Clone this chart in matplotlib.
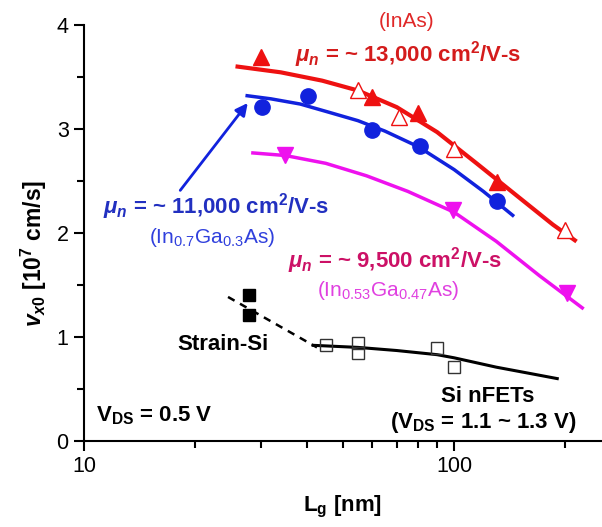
import numpy as np
import matplotlib
matplotlib.use("Agg")
import matplotlib.pyplot as plt
from matplotlib.ticker import FixedLocator, NullFormatter

plt.rcParams['font.family'] = ['Liberation Sans', 'DejaVu Sans']
plt.rcParams['mathtext.fontset'] = 'custom'
plt.rcParams['mathtext.rm'] = 'Liberation Sans:bold'
plt.rcParams['mathtext.bf'] = 'Liberation Sans:bold'
plt.rcParams['mathtext.it'] = 'Liberation Sans:italic:bold'
plt.rcParams['mathtext.sf'] = 'Liberation Sans'

# InAs (red): filled = measured, open = second set
inas_fill_x = [30, 60, 80, 131]
inas_fill_y = [3.69, 3.31, 3.15, 2.49]
inas_open_x = [55, 71, 100, 200]
inas_open_y = [3.375, 3.12, 2.81, 2.03]
inas_fit_x = [26, 34, 44, 55, 70, 90, 115, 150, 185, 212]
inas_fit_y = [3.60, 3.545, 3.465, 3.37, 3.21, 2.97, 2.67, 2.34, 2.08, 1.93]

# In0.7Ga0.3As (blue)
ingaas7_x = [30.3, 40.3, 60, 81, 131]
ingaas7_y = [3.21, 3.32, 2.99, 2.84, 2.31]
ingaas7_fit_x = [27.6, 32, 38.4, 46, 55, 65, 80, 100, 120, 144]
ingaas7_fit_y = [3.32, 3.29, 3.24, 3.16, 3.08, 2.98, 2.83, 2.61, 2.40, 2.17]

# In0.53Ga0.47As (magenta)
ingaas53_x = [34.9, 99.6, 202]
ingaas53_y = [2.75, 2.22, 1.42]
ingaas53_fit_x = [28.6, 35, 45, 58, 75, 100, 130, 170, 222]
ingaas53_fit_y = [2.77, 2.745, 2.67, 2.55, 2.40, 2.20, 1.92, 1.59, 1.28]

# Si
strain_x = [27.9, 27.9]
strain_y = [1.40, 1.21]
si_x = [45.1, 55, 55, 90, 100]
si_y = [0.92, 0.94, 0.85, 0.89, 0.71]
si_fit_x = [41.6, 55, 70, 90, 100, 130, 160, 190]
si_fit_y = [0.92, 0.90, 0.87, 0.83, 0.80, 0.71, 0.65, 0.60]
si_dash_x = [24.5, 42.6]
si_dash_y = [1.385, 0.90]

red = '#ee1111'
blue = '#1122dd'
mag = '#ee11ee'

fig = plt.figure(figsize=(6.02, 5.27), dpi=100)
ax = fig.add_axes([84 / 602, 86 / 527, 518 / 602, 416 / 527])

ax.plot(inas_fit_x, inas_fit_y, color=red, lw=3, zorder=2)
ax.plot(inas_fill_x, inas_fill_y, '^', color=red, ms=11, zorder=3)
ax.plot(inas_open_x, inas_open_y, '^', mfc='white', mec=red, mew=1, ms=11, zorder=3)

ax.plot(ingaas7_fit_x, ingaas7_fit_y, color=blue, lw=2.5, zorder=2)
ax.plot(ingaas7_x, ingaas7_y, 'o', color=blue, ms=11, zorder=3)

ax.plot(ingaas53_fit_x, ingaas53_fit_y, color=mag, lw=2.5, zorder=2)
ax.plot(ingaas53_x, ingaas53_y, 'v', color=mag, ms=11, zorder=3)

ax.plot(si_fit_x, si_fit_y, color='black', lw=2.2, zorder=2)
ax.plot(si_dash_x, si_dash_y, color='black', lw=1.8, ls=(0, (3, 2.5)), zorder=2)
ax.plot(strain_x, strain_y, 's', color='black', ms=9, zorder=3)
ax.plot(si_x, si_y, 's', mfc='none', mec='#333333', mew=1, ms=9, zorder=3)

ax.annotate('', xy=(27.7, 3.25), xytext=(18.2, 2.41),
            arrowprops=dict(arrowstyle='-|>', color=blue, lw=2,
                            mutation_scale=18, shrinkA=0, shrinkB=0))

ax.set_xscale('log')
ax.set_xlim(10, 251)
ax.set_ylim(0, 4)
ax.xaxis.set_major_locator(FixedLocator([10, 100]))
ax.xaxis.set_minor_locator(FixedLocator([20, 30, 40, 50, 60, 70, 80, 90, 200]))
ax.xaxis.set_minor_formatter(NullFormatter())
ax.set_xticklabels(['10', '100'])
ax.set_yticks([0, 1, 2, 3, 4])
ax.set_yticks([0.5, 1.5, 2.5, 3.5], minor=True)
for s in ['top', 'right']:
    ax.spines[s].set_visible(False)
for s in ['left', 'bottom']:
    ax.spines[s].set_linewidth(1.5)
ax.tick_params(which='major', length=7, width=1.5, labelsize=15.5, pad=4)
ax.tick_params(which='minor', length=5, width=1.5)

ax.set_xlabel(r'L$_\mathrm{g}$ [nm]', fontsize=16, fontweight='bold', labelpad=12)
ax.set_ylabel(r'$v_{x0}$ [10$^7$ cm/s]', fontsize=16.5, fontweight='bold')
ax.yaxis.set_label_coords(-0.067, 0.45)

bold = dict(fontsize=16, fontweight='bold')
ax.text(74.6, 3.98, '(InAs)', color='#e02828', fontsize=15, ha='center', va='baseline')
ax.text(37.2, 3.65, r'$\mu_n$ = ~ 13,000 cm$^2$/V-s', color='#d41c1c', ha='left', va='baseline', **bold)
ax.text(11.25, 2.19, r'$\mu_n$ = ~ 11,000 cm$^2$/V-s', color='#2230c0', ha='left', va='baseline', **bold)
ax.text(22.2, 1.90, r'(In$_{\mathsf{0.7}}$Ga$_{\mathsf{0.3}}$As)', color='#3040dd', fontsize=15,
        ha='center', va='baseline')
ax.text(35.6, 1.67, r'$\mu_n$ = ~ 9,500 cm$^2$/V-s', color='#cc1166', ha='left', va='baseline', **bold)
ax.text(66.4, 1.39, r'(In$_{\mathsf{0.53}}$Ga$_{\mathsf{0.47}}$As)', color='#e040e0', fontsize=15,
        ha='center', va='baseline')
ax.text(23.7, 0.875, 'Strain-Si', color='black', ha='center', va='baseline', **bold)
ax.text(10.8, 0.19, r'V$_{\mathrm{DS}}$ = 0.5 V', color='black', ha='left', va='baseline', **bold)
ax.text(123, 0.375, 'Si nFETs', color='black', ha='center', va='baseline', **bold)
ax.text(120, 0.125, r'(V$_{\mathrm{DS}}$ = 1.1 ~ 1.3 V)', color='black', ha='center', va='baseline', **bold)

fig.savefig('out.png', dpi=100)
